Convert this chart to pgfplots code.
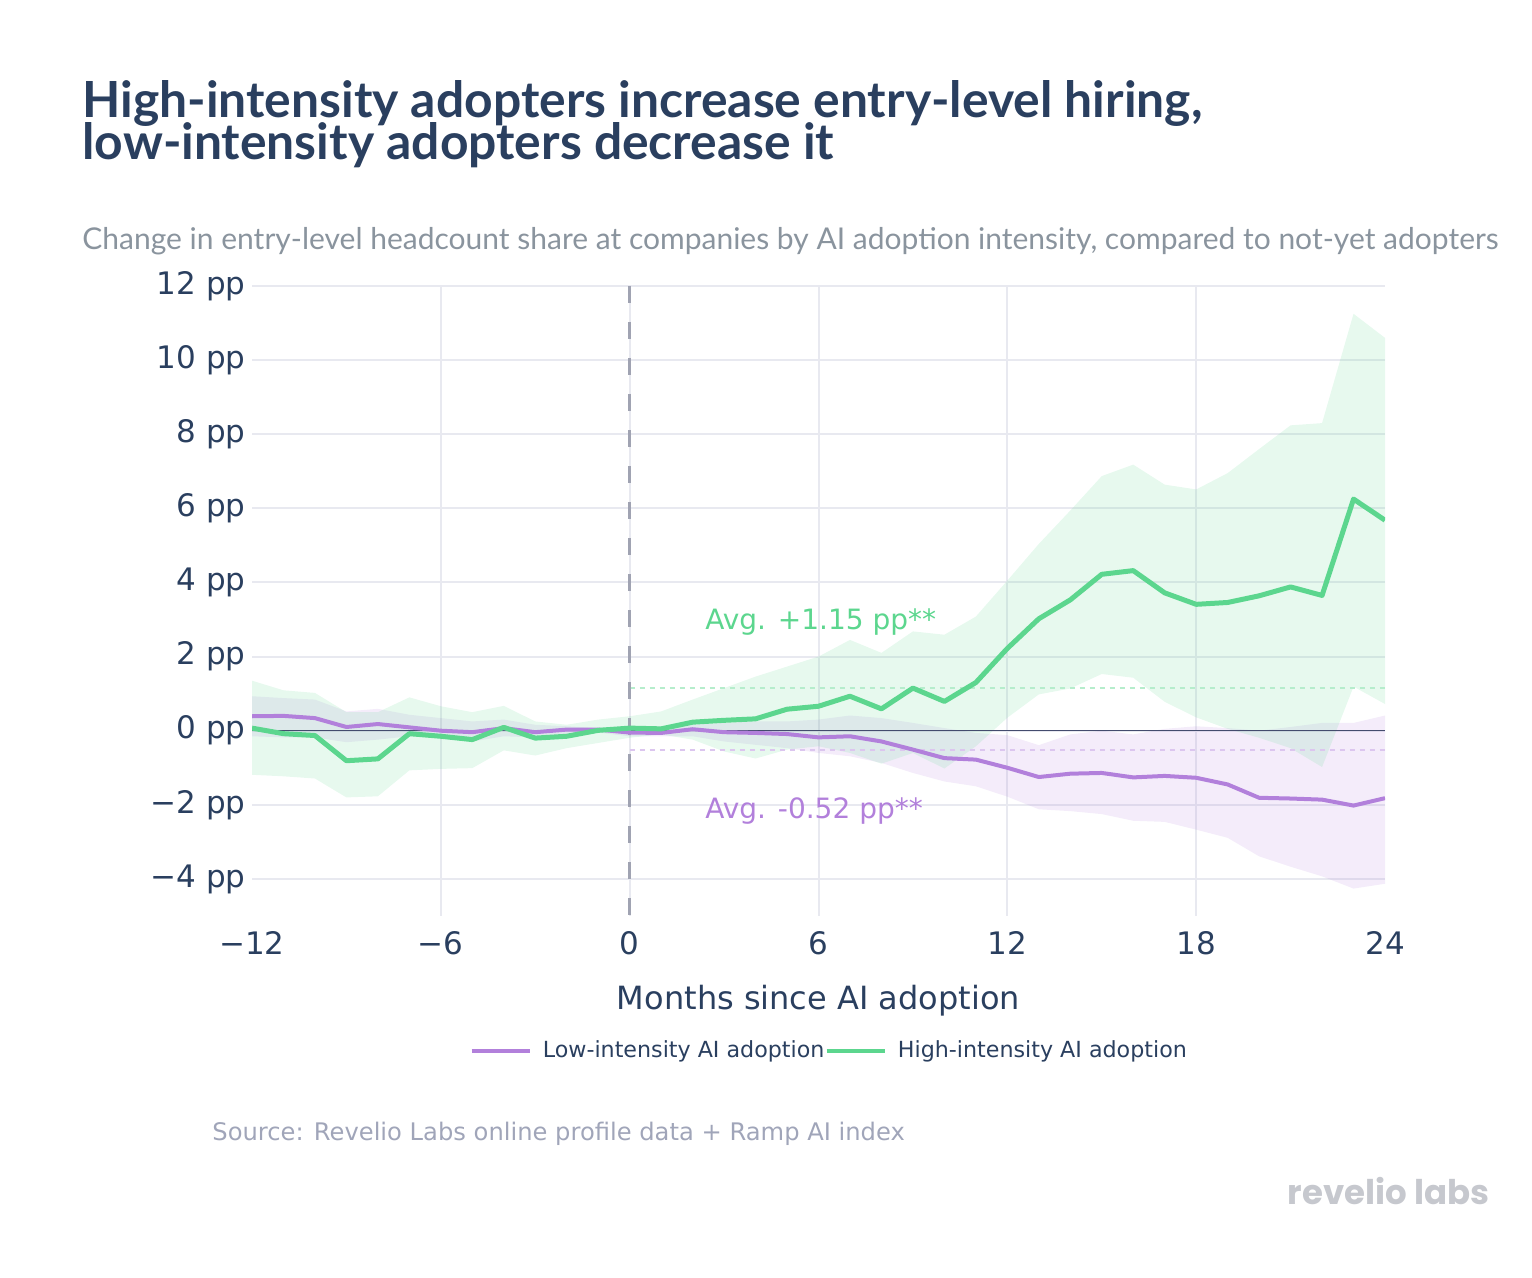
\documentclass[border=0pt]{standalone}
\usepackage{fontspec}
\setmainfont{DejaVu Sans}
\newfontfamily\titlefont{Lato}
\newfontfamily\logofont{Poppins}
\usepackage{pgfplots}
\pgfplotsset{compat=1.18}
\usepackage{pgfplotstable}
\usepgfplotslibrary{fillbetween}

\definecolor{titlec}{RGB}{42,63,95}
\definecolor{subc}{RGB}{138,148,158}
\definecolor{srcc}{RGB}{160,165,185}
\definecolor{logoc}{RGB}{198,200,206}
\definecolor{hic}{RGB}{92,214,142}
\definecolor{lowc}{RGB}{178,128,219}
\definecolor{gridc}{RGB}{232,233,240}
\definecolor{zeroc}{RGB}{68,76,110}
\definecolor{vc}{RGB}{160,163,178}

\pgfplotstableread{
m   low    loL    loH    high   hiL    hiH
-12  0.39  -0.15   0.93   0.07  -1.19   1.35
-11  0.40  -0.18   0.88  -0.08  -1.23   1.09
-10  0.34  -0.18   0.84  -0.13  -1.29   1.02
-9   0.10  -0.31   0.52  -0.81  -1.80   0.50
-8   0.18  -0.24   0.59  -0.76  -1.77   0.50
-7   0.09  -0.15   0.43  -0.08  -1.07   0.90
-6   0.00  -0.18   0.34  -0.15  -1.03   0.66
-5  -0.04  -0.29   0.25  -0.24  -1.01   0.50
-4   0.07  -0.15   0.30   0.09  -0.53   0.67
-3  -0.04  -0.18   0.16  -0.20  -0.67   0.25
-2   0.03  -0.10   0.12  -0.15  -0.47   0.16
-1   0.03  -0.05   0.07   0.01  -0.33   0.30
0   -0.05  -0.15   0.10   0.07  -0.19   0.39
1   -0.06  -0.15   0.12   0.05  -0.10   0.52
2    0.04  -0.15   0.16   0.23  -0.24   0.84
3   -0.04  -0.29   0.21   0.28  -0.56   1.15
4   -0.06  -0.38   0.25   0.32  -0.75   1.46
5   -0.09  -0.47   0.25   0.58  -0.51   1.73
6   -0.18  -0.60   0.30   0.66  -0.42   2.00
7   -0.15  -0.69   0.41   0.93  -0.60   2.45
8   -0.29  -0.87   0.34   0.59  -0.89   2.10
9   -0.51  -1.14   0.21   1.15  -0.60   2.68
10  -0.74  -1.37   0.07   0.79  -1.02   2.59
11  -0.78  -1.50  -0.06   1.30  -0.42   3.08
12  -1.00  -1.78  -0.12   2.22   0.35   4.05
13  -1.25  -2.12  -0.39   3.02   0.98   5.04
14  -1.16  -2.17  -0.10   3.53   1.14   5.94
15  -1.14  -2.25   0.00   4.22   1.53   6.87
16  -1.26  -2.43  -0.10   4.32   1.43   7.18
17  -1.22  -2.46   0.05   3.72   0.78   6.64
18  -1.27  -2.67   0.12   3.41   0.36   6.51
19  -1.45  -2.89   0.07   3.46   0.05   6.95
20  -1.81  -3.39   0.00   3.64  -0.19   7.60
21  -1.83  -3.67   0.10   3.88  -0.47   8.24
22  -1.86  -3.93   0.21   3.65  -0.98   8.30
23  -2.02  -4.26   0.21   6.25   1.19  11.25
24  -1.82  -4.13   0.41   5.68   0.72  10.60
}\datatable

\begin{document}
\begin{tikzpicture}
\node[anchor=base west, inner sep=0pt, text=titlec, font=\titlefont\bfseries\fontsize{24.9}{24.9}\selectfont] at (41pt,-59pt) {High-intensity adopters increase entry-level hiring,};
\node[anchor=base west, inner sep=0pt, text=titlec, font=\titlefont\bfseries\fontsize{24.9}{24.9}\selectfont] at (41pt,-80pt) {low-intensity adopters decrease it};
\node[anchor=base west, inner sep=0pt, text=subc, font=\titlefont\fontsize{15}{15}\selectfont] at (41pt,-125pt) {Change in entry-level headcount share at companies by AI adoption intensity, compared to not-yet adopters};
\node[anchor=base west, inner sep=0pt, text=srcc, font=\fontsize{12.1}{12.1}\selectfont] at (106pt,-570pt) {Source: Revelio Labs online profile data + Ramp AI index};
\node[anchor=base east, inner sep=0pt, text=logoc, font=\logofont\bfseries\fontsize{17}{17}\selectfont] at (745pt,-602pt) {revelio labs};

\begin{axis}[
  at={(126pt,-458pt)}, anchor=south west,
  scale only axis, width=566.5pt, height=315pt,
  xmin=-12, xmax=24, ymin=-5, ymax=12,
  xtick={-6,0,6,12,18},
  xticklabels={−6,0,6,12,18},
  extra x ticks={-12,24},
  extra x tick labels={−12,24},
  extra x tick style={grid=none},
  ytick={-4,-2,0,2,4,6,8,10,12},
  yticklabels={−4 pp,−2 pp,0 pp,2 pp,4 pp,6 pp,8 pp,10 pp,12 pp},
  major tick length=0pt,
  axis line style={draw=none},
  grid=major,
  grid style={gridc, line width=1pt},
  ticklabel style={text=titlec, font=\fontsize{15.5}{15.5}\selectfont},
  yticklabel style={anchor=east, inner sep=0pt, xshift=-3pt},
  xticklabel style={anchor=center, inner sep=0pt, yshift=-13.5pt},
  xlabel={Months since AI adoption},
  xlabel style={at={(axis description cs:0.5,0)}, anchor=center, yshift=-42.5pt, text=titlec, font=\fontsize{16}{16}\selectfont},
  legend columns=2,
  legend style={at={(axis description cs:0.1915,-0.214)}, anchor=west, draw=none, fill=none,
    inner sep=0pt, font=\fontsize{11.1}{11.1}\selectfont, text=titlec,
    nodes={inner sep=0pt},
    /tikz/every odd column/.append style={column sep=5.5pt},
    /tikz/every even column/.append style={column sep=0pt}},
  legend image code/.code={\draw[#1, line width=2.2pt] (0pt,0pt) -- (29pt,0pt);},
]
\addplot[draw=none, name path=loU, forget plot] table[x=m,y=loH]{\datatable};
\addplot[draw=none, name path=loD, forget plot] table[x=m,y=loL]{\datatable};
\addplot[draw=none, name path=hiU, forget plot] table[x=m,y=hiH]{\datatable};
\addplot[draw=none, name path=hiD, forget plot] table[x=m,y=hiL]{\datatable};
\addplot[fill=lowc, fill opacity=0.15, draw=none, forget plot] fill between[of=loU and loD];
\addplot[fill=hic, fill opacity=0.15, draw=none, forget plot] fill between[of=hiU and hiD];
\addplot[zeroc, line width=0.6pt, forget plot] coordinates {(-12,0) (24,0)};
\addplot[hic!45, line width=0.7pt, dash pattern=on 2.5pt off 2.5pt, forget plot] coordinates {(0,1.15) (24,1.15)};
\addplot[lowc!45, line width=0.7pt, dash pattern=on 2.5pt off 2.5pt, forget plot] coordinates {(0,-0.52) (24,-0.52)};
\addplot[vc, line width=1.5pt, dash pattern=on 8.5pt off 9.5pt, forget plot] coordinates {(0,12) (0,-5)};
\addplot[lowc, line width=2pt, line join=round] table[x=m,y=low]{\datatable};
\addlegendentry{Low-intensity AI adoption}
\addplot[hic, line width=2.5pt, line join=round] table[x=m,y=high]{\datatable};
\addlegendentry{High-intensity AI adoption}
\node[anchor=west, inner sep=0pt, text=hic, font=\fontsize{14}{14}\selectfont] at (axis cs:2.39,2.94) {Avg. +1.15 pp**};
\node[anchor=west, inner sep=0pt, text=lowc, font=\fontsize{14}{14}\selectfont] at (axis cs:2.39,-2.18) {Avg. -0.52 pp**};
\end{axis}
\pgfresetboundingbox
\path[use as bounding box] (0,0) rectangle (766pt,-639pt);
\end{tikzpicture}
\end{document}
